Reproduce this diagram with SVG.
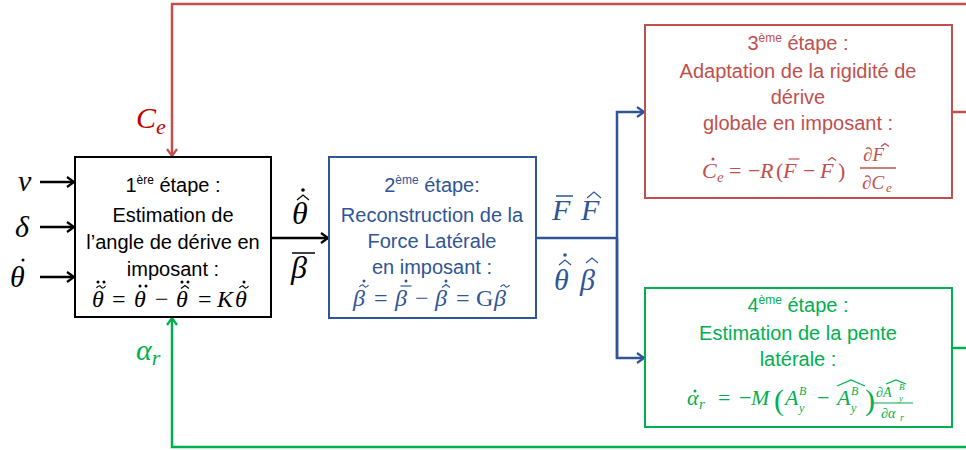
<svg xmlns="http://www.w3.org/2000/svg" width="966" height="450" viewBox="0 0 966 450">
<style>
.t{font-family:"Liberation Sans",Arial,sans-serif;font-size:20px;text-anchor:middle}
.sup{font-size:12px}
.m{font-family:"Liberation Serif","DejaVu Serif",serif;font-style:italic}
.u{font-family:"Liberation Serif","DejaVu Serif",serif;font-style:normal}
.k{fill:#000;color:#000}.b{fill:#2F5597;color:#2F5597}.r{fill:#C0504D;color:#C0504D}.g{fill:#00B050;color:#00B050}
.box{fill:#fff;stroke-width:2}
.ln{fill:none;stroke-width:2.5}
.acc{fill:none;stroke:currentColor;stroke-width:1.2}
</style>
<defs>
<marker id="ak" markerWidth="12" markerHeight="12" refX="9" refY="6" orient="auto" markerUnits="userSpaceOnUse"><path d="M2,1 L9,6 L2,11" fill="none" stroke="#000" stroke-width="2.2"/></marker>
<marker id="ab" markerWidth="12" markerHeight="12" refX="9" refY="6" orient="auto" markerUnits="userSpaceOnUse"><path d="M2,1 L9,6 L2,11" fill="none" stroke="#2F5597" stroke-width="2.2"/></marker>
<marker id="ar" markerWidth="12" markerHeight="12" refX="9" refY="6" orient="auto" markerUnits="userSpaceOnUse"><path d="M2,1 L9,6 L2,11" fill="none" stroke="#C0504D" stroke-width="2.2"/></marker>
<marker id="ag" markerWidth="12" markerHeight="12" refX="9" refY="6" orient="auto" markerUnits="userSpaceOnUse"><path d="M2,1 L9,6 L2,11" fill="none" stroke="#00B050" stroke-width="2.2"/></marker>
<circle id="dot" r="1.5" fill="currentColor"/>
<g id="ddot"><circle cx="-3" r="1.5" fill="currentColor"/><circle cx="3" r="1.5" fill="currentColor"/></g>
<path id="hat" class="acc" d="M-4,1.5 L0,-1.5 L4,1.5"/>
<path id="tilde" class="acc" d="M-4.5,1 C-3,-1.5 -1,-1.5 0,0 S3,1.5 4.5,-1"/>
<path id="bar" class="acc" d="M-5.5,0 H5.5"/>
</defs>
<rect width="966" height="450" fill="#fff"/>
<g id="connectors">
<path class="ln" stroke="#000" d="M40,182 H74" marker-end="url(#ak)"/>
<path class="ln" stroke="#000" d="M40,227 H74" marker-end="url(#ak)"/>
<path class="ln" stroke="#000" d="M40,277 H74" marker-end="url(#ak)"/>
<path class="ln" stroke="#000" d="M271,238 H328" marker-end="url(#ak)"/>
<path class="ln" stroke="#2F5597" d="M536,238 H617"/>
<path class="ln" stroke="#2F5597" d="M617,358 V112 H644" marker-end="url(#ab)"/>
<path class="ln" stroke="#2F5597" d="M617,238 V358 H644" marker-end="url(#ab)"/>
<path class="ln" stroke="#C0504D" d="M966,4 H172 V156" marker-end="url(#ar)"/>
<path class="ln" stroke="#C0504D" d="M952,112 H966"/>
<path class="ln" stroke="#00B050" d="M966,447 H172 V318" marker-end="url(#ag)"/>
<path class="ln" stroke="#00B050" d="M952,348 H966"/>
</g>
<g id="labels">
<text class="m k" x="18" y="191" font-size="30">v</text>
<text class="m k" x="15" y="237" font-size="30">δ</text>
<g class="k"><text class="m" x="10" y="287" font-size="30">θ</text><use href="#dot" x="23" y="260"/></g>
<g class="k"><text class="m" x="292" y="224" font-size="32">θ</text>
<path class="acc" d="M297,200 L303,195 L309,200" stroke-width="1.5"/><circle cx="303" cy="190" r="1.8" fill="#000"/>
<text class="m" x="291" y="278" font-size="32">β</text>
<path d="M292,253 H315" stroke="#000" stroke-width="1.5"/></g>
<g class="b"><text class="m" x="552" y="220" font-size="30">F</text>
<path d="M556,196 H573" stroke="#2F5597" stroke-width="1.5"/>
<text class="m" x="581" y="220" font-size="30">F</text>
<path class="acc" d="M587,198 L594,192 L601,198" stroke-width="1.5"/>
<text class="m" x="554" y="290" font-size="30">θ</text>
<path class="acc" d="M559,265 L565,260 L571,265" stroke-width="1.5"/><circle cx="565" cy="255" r="1.8" fill="#2F5597"/>
<text class="m" x="580" y="290" font-size="30">β</text>
<path class="acc" d="M586,263 L592,258 L598,263" stroke-width="1.5"/></g>
<text class="m" x="136" y="128" font-size="30" fill="#C00000">C<tspan font-size="22" dy="6">e</tspan></text>
<text class="m" x="136" y="360" font-size="30" fill="#00B050">α<tspan font-size="22" dy="5">r</tspan></text>
</g>
<g id="step1" class="k">
<rect class="box" x="75" y="157" width="196" height="160" stroke="#000"/>
<text class="t" x="173" y="192">1<tspan class="sup" dy="-8">ère</tspan><tspan dy="8"> étape :</tspan></text>
<text class="t" x="173" y="222">Estimation de</text>
<text class="t" x="173" y="249">l’angle de dérive en</text>
<text class="t" x="173" y="276">imposant :</text>
<g font-size="24">
<text class="m" x="92" y="307">θ</text><use href="#tilde" x="101" y="287"/><use href="#ddot" x="101" y="282"/>
<text class="u" x="112" y="307">=</text>
<text class="m" x="134" y="307">θ</text><use href="#ddot" x="143" y="286"/>
<text class="u" x="155" y="307">−</text>
<text class="m" x="176" y="307">θ</text><use href="#hat" x="185" y="287"/><use href="#ddot" x="185" y="282"/>
<text class="u" x="198" y="307">=</text>
<text class="m" x="217" y="307">K</text>
<text class="m" x="235" y="307">θ</text><use href="#tilde" x="244" y="287"/><use href="#dot" x="244" y="282"/>
</g>
</g>
<g id="step2" class="b">
<rect class="box" x="329" y="157" width="207" height="161" stroke="#2F5597"/>
<text class="t" x="432" y="192">2<tspan class="sup" dy="-8">ème</tspan><tspan dy="8"> étape:</tspan></text>
<text class="t" x="432" y="222">Reconstruction de la</text>
<text class="t" x="432" y="248">Force Latérale</text>
<text class="t" x="432" y="274">en imposant :</text>
<g font-size="24">
<text class="m" x="353" y="306">β</text><use href="#tilde" x="364" y="286"/><use href="#dot" x="364" y="281"/>
<text class="u" x="374" y="306">=</text>
<text class="m" x="395" y="306">β</text><use href="#bar" x="406" y="286"/><use href="#dot" x="406" y="281"/>
<text class="u" x="415" y="306">−</text>
<text class="m" x="435" y="306">β</text><use href="#hat" x="446" y="286"/><use href="#dot" x="446" y="281"/>
<text class="u" x="456" y="306">=</text>
<text class="u" x="476" y="306">G</text>
<text class="m" x="494" y="306">β</text><use href="#tilde" x="505" y="286"/>
</g>
</g>
<g id="step3" class="r">
<rect class="box" x="645" y="25" width="307" height="173" stroke="#C0504D"/>
<text class="t" x="798" y="50">3<tspan class="sup" dy="-8">ème</tspan><tspan dy="8"> étape :</tspan></text>
<text class="t" x="798" y="78">Adaptation de la rigidité de</text>
<text class="t" x="798" y="104">dérive</text>
<text class="t" x="798" y="130">globale en imposant :</text>
<g font-size="22">
<text class="m" x="702" y="178">C</text><use href="#dot" x="713" y="159"/>
<text class="m" x="717" y="182" font-size="15">e</text>
<text class="u" x="729" y="178">=</text>
<text class="u" x="748" y="178">−</text>
<text class="m" x="760" y="178">R</text>
<text class="u" x="776" y="178">(</text>
<text class="m" x="783" y="178">F</text><use href="#bar" x="794" y="159"/>
<text class="u" x="803" y="178">−</text>
<text class="m" x="820" y="178">F</text><use href="#hat" x="832" y="159"/>
<text class="u" x="838" y="178">)</text>
<text class="m" x="863" y="161" font-size="19">∂F</text><use href="#hat" x="885" y="145"/>
<path d="M860,168 H896" stroke="#C0504D" stroke-width="1.3"/>
<text class="m" x="862" y="189" font-size="19">∂C</text>
<text class="m" x="886" y="192" font-size="13">e</text>
</g>
</g>
<g id="step4" class="g">
<rect class="box" x="645" y="288" width="307" height="139" stroke="#00B050"/>
<text class="t" x="798" y="312">4<tspan class="sup" dy="-8">ème</tspan><tspan dy="8"> étape :</tspan></text>
<text class="t" x="798" y="340">Estimation de la pente</text>
<text class="t" x="798" y="366">latérale :</text>
<g font-size="22">
<text class="m" x="687" y="405">α</text><use href="#dot" x="695" y="391"/>
<text class="m" x="699" y="409" font-size="15">r</text>
<text class="u" x="718" y="405">=</text>
<text class="u" x="739" y="405">−</text>
<text class="m" x="751" y="405">M</text>
<text class="u" x="774" y="410" font-size="30">(</text>
<text class="m" x="785" y="405">A</text>
<text class="m" x="799" y="395" font-size="12">B</text>
<text class="m" x="799" y="412" font-size="12">y</text>
<text class="u" x="817" y="405">−</text>
<text class="m" x="837" y="405">A</text>
<text class="m" x="851" y="395" font-size="12">B</text>
<text class="m" x="851" y="412" font-size="12">y</text>
<path class="acc" d="M837,386 L851,380 L865,386"/>
<text class="u" x="865" y="410" font-size="30">)</text>
<text class="m" x="876" y="397" font-size="14">∂A</text>
<text class="m" x="899" y="390" font-size="9">B</text>
<text class="m" x="899" y="401" font-size="9">y</text>
<path class="acc" d="M886,384 L896,380 L906,384" stroke-width="1"/>
<path d="M873,403 H913" stroke="#00B050" stroke-width="1.2"/>
<text class="m" x="881" y="418" font-size="14">∂α</text>
<text class="m" x="900" y="421" font-size="10">r</text>
</g>
</g>
</svg>
